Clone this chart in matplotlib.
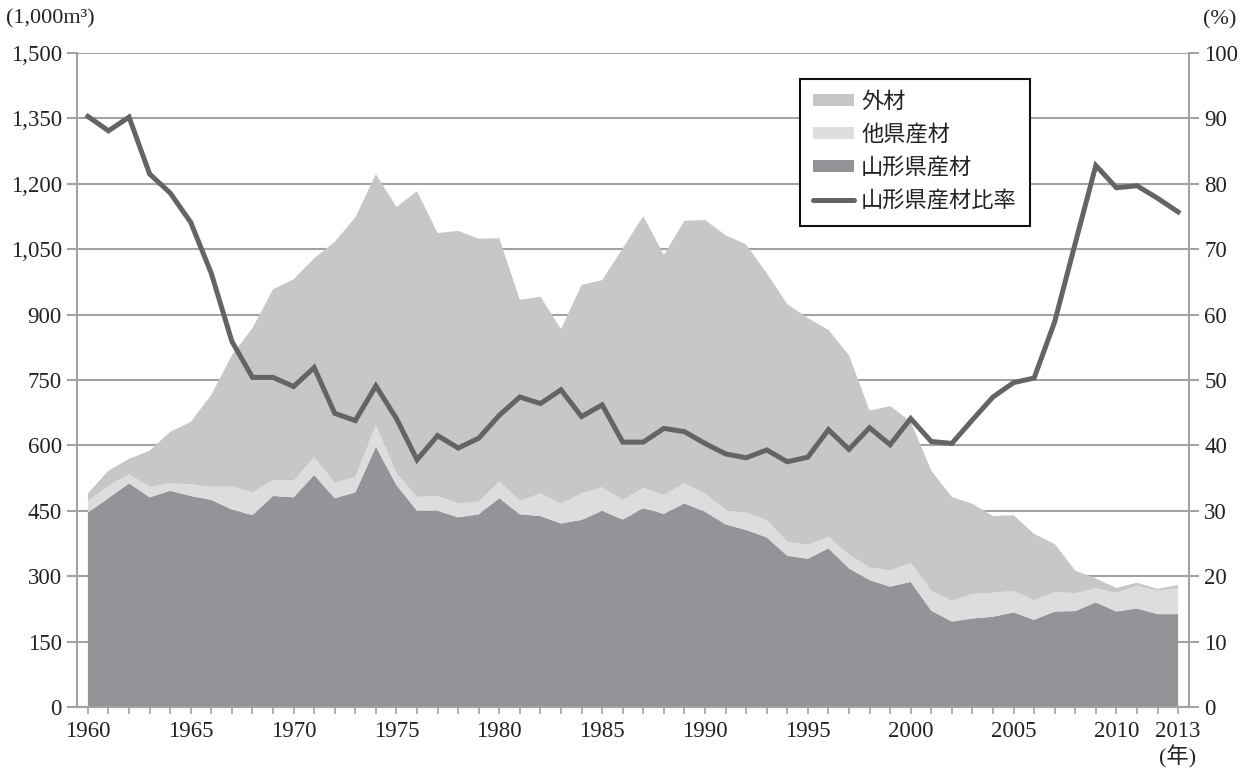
# Timber supply in Yamagata: stacked areas + share line
import matplotlib
matplotlib.use('Agg')
import matplotlib.pyplot as plt
import matplotlib.ticker as ticker
from matplotlib.patches import Patch
from matplotlib.lines import Line2D

plt.rcParams['font.family'] = ['Liberation Serif', 'Noto Sans CJK JP']

# ------ data (1,000 m3 and %) ------
years = list(range(1960, 2014))

yamagata = [446, 479, 513, 481, 496, 484, 475, 453, 440, 484,
            481, 532, 479, 492, 597, 509, 450, 450, 435, 442,
            479, 442, 438, 421, 429, 450, 430, 456, 443, 467,
            448, 419, 406, 389, 347, 340, 364, 318, 291, 276,
            287, 221, 196, 203, 207, 217, 200, 219, 220, 240,
            219, 226, 213, 213]

other_pref = [27, 28, 21, 24, 17, 27, 30, 54, 52, 37,
              38, 41, 35, 36, 50, 27, 32, 34, 32, 29,
              38, 31, 52, 45, 61, 54, 45, 47, 43, 46,
              42, 33, 40, 40, 32, 32, 27, 31, 29, 37,
              44, 46, 48, 56, 55, 49, 45, 45, 41, 32,
              43, 52, 54, 59]

imported = [17, 35, 35, 83, 118, 143, 211, 300, 377, 437,
            462, 456, 553, 595, 575, 611, 701, 603, 625, 603,
            558, 461, 451, 401, 478, 475, 577, 623, 551, 602,
            627, 630, 615, 566, 545, 520, 474, 458, 360, 377,
            324, 275, 238, 207, 176, 174, 152, 110, 52, 23,
            11, 7, 4, 8]

ratio = [90.3, 88.1, 90.2, 81.5, 78.6, 74.1, 66.3, 55.9, 50.4, 50.4,
         49.0, 51.9, 44.9, 43.8, 49.1, 44.1, 37.8, 41.5, 39.6, 41.1,
         44.6, 47.4, 46.4, 48.5, 44.4, 46.2, 40.5, 40.5, 42.6, 42.1,
         40.3, 38.7, 38.1, 39.3, 37.5, 38.2, 42.4, 39.4, 42.7, 40.1,
         44.1, 40.6, 40.3, 43.9, 47.4, 49.6, 50.3, 58.9, 70.9, 82.8,
         79.4, 79.7, 77.8, 75.7]

labels = ['外材', '他県産材', '山形県産材', '山形県産材比率']
c_imp, c_oth, c_yam, c_line = '#c6c7c9', '#dcdddf', '#939498', '#636466'
grid_c = '#a3a3a3'
txt_c = '#222222'

fig = plt.figure(figsize=(12.49, 7.69), dpi=100)
ax = fig.add_axes([77/1249, 1 - 707/769, 1112/1249, 654/769])
ax2 = ax.twinx()

ax.stackplot(years, yamagata, other_pref, imported,
             colors=[c_yam, c_oth, c_imp], linewidth=0)
ax2.plot(years, ratio, color=c_line, lw=3.6, solid_joinstyle='miter')

ax.set_xlim(1959.47, 2013.53)
ax.set_ylim(0, 1500)
ax2.set_ylim(0, 100)

ax.yaxis.set_major_locator(ticker.MultipleLocator(150))
ax.yaxis.set_major_formatter(ticker.FuncFormatter(lambda v, p: f'{int(v):,}'))
ax2.yaxis.set_major_locator(ticker.MultipleLocator(10))

ax.xaxis.set_major_locator(ticker.FixedLocator(years))
shown = [1960, 1965, 1970, 1975, 1980, 1985, 1990, 1995, 2000, 2005, 2010, 2013]
ax.xaxis.set_major_formatter(ticker.FuncFormatter(
    lambda v, p: str(int(round(v))) if int(round(v)) in shown else ''))

ax.set_axisbelow(True)
ax.grid(axis='y', color=grid_c, lw=1.5)
ax.grid(axis='x', visible=False)

for a in (ax, ax2):
    a.spines['top'].set_visible(False)
    for s in ('left', 'right', 'bottom'):
        a.spines[s].set_color(grid_c)
        a.spines[s].set_linewidth(1.5)
ax.spines['right'].set_visible(False)
ax2.spines['left'].set_visible(False)

ax.tick_params(axis='y', length=7, width=1.5, color=grid_c, labelsize=16.5, pad=4, labelcolor=txt_c)
ax.tick_params(axis='x', length=5, width=1.2, color=grid_c, labelsize=16.5, pad=5, labelcolor=txt_c)
ax2.tick_params(axis='y', length=7, width=1.5, color=grid_c, labelsize=16.5, pad=4, labelcolor=txt_c)

fig.text(6/1249, 1 - 19/769, '(1,000m³)', fontsize=16, va='center', ha='left', color=txt_c)
fig.text(1220/1249, 1 - 20/769, '(%)', fontsize=16, va='center', ha='center', color=txt_c)
fig.text(1178/1249, 1 - 757/769, '(年)', fontsize=16, va='center', ha='center', color=txt_c)

handles = [Patch(facecolor=c_imp, edgecolor='none'),
           Patch(facecolor=c_oth, edgecolor='none'),
           Patch(facecolor=c_yam, edgecolor='none'),
           Line2D([0], [0], color=c_line, lw=3.6, solid_capstyle='round')]
leg = ax2.legend(handles, labels, loc='upper left',
                 bbox_to_anchor=((800 - 77) / 1112, (707 - 79) / 654),
                 fontsize=16, frameon=True, fancybox=False, framealpha=1,
                 edgecolor='#111111', handlelength=1.85, handleheight=0.45,
                 handletextpad=0.3, labelspacing=0.55, borderpad=0.6,
                 borderaxespad=0)
leg.get_frame().set_linewidth(1.5)
for t in leg.get_texts():
    t.set_color(txt_c)

plt.savefig('out.png', dpi=100)
